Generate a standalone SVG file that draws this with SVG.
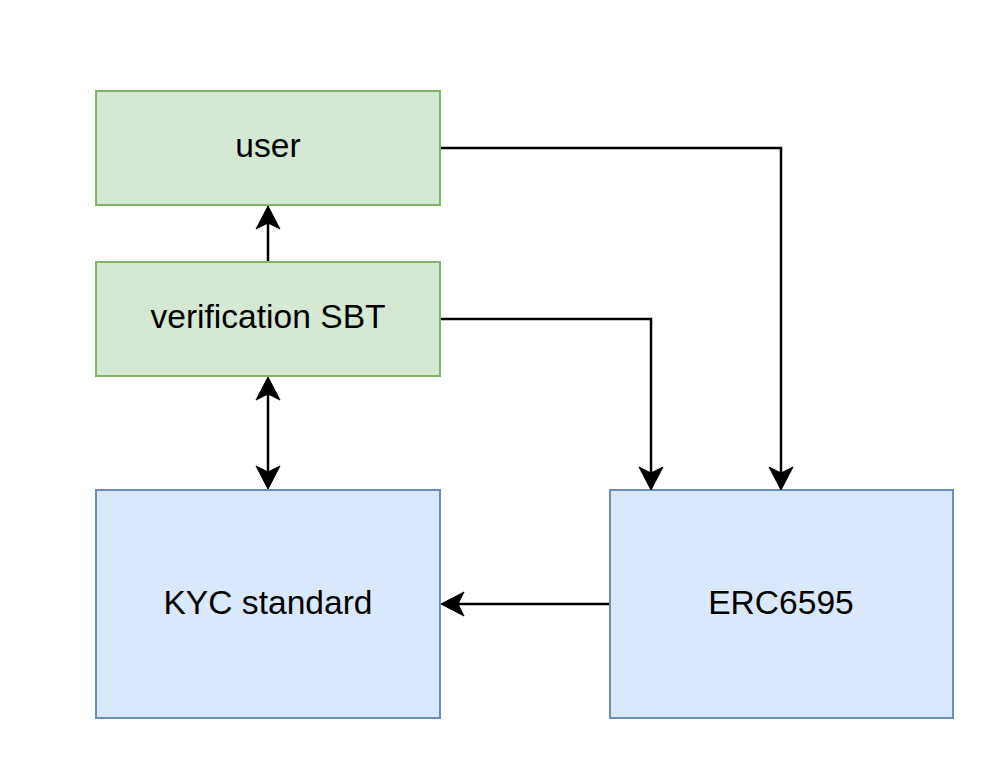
<svg xmlns="http://www.w3.org/2000/svg" width="1004" height="772" viewBox="0 0 1004 772">
<style>
.g{fill:#d5e8d4;stroke:#82b366;stroke-width:2}
.b{fill:#dae8fc;stroke:#6c8ebf;stroke-width:2}
.t{font-family:"Liberation Sans",Arial,sans-serif;font-size:33.6px;fill:#000;text-anchor:middle}
.c{fill:none;stroke:#000;stroke-width:2.5}
.h{fill:#000;stroke:#000;stroke-width:1}
</style>
<defs>
<path id="ah" d="M0,0 L-12,-23 L0,-17 L12,-23 Z"/>
</defs>
<rect width="1004" height="772" fill="#fff"/>
<g id="user"><rect class="g" x="96" y="91" width="344" height="114"/><text class="t" x="268" y="157">user</text></g>
<g id="sbt"><rect class="g" x="96" y="262" width="344" height="114"/><text class="t" x="268" y="328">verification SBT</text></g>
<g id="kyc"><rect class="b" x="96" y="490" width="344" height="228"/><text class="t" x="268" y="614">KYC standard</text></g>
<g id="erc"><rect class="b" x="610" y="490" width="343" height="228"/><text class="t" x="781" y="614">ERC6595</text></g>
<g id="connectors">
<path class="c" d="M441,148 H781 V474"/>
<use href="#ah" class="h" transform="translate(781,490)"/>
<path class="c" d="M441,319 H651 V474"/>
<use href="#ah" class="h" transform="translate(651,490)"/>
<path class="c" d="M609,604 H456"/>
<use href="#ah" class="h" transform="translate(441,604) rotate(90)"/>
<path class="c" d="M268,261 V221"/>
<use href="#ah" class="h" transform="translate(268,206) rotate(180)"/>
<path class="c" d="M268,393 V474"/>
<use href="#ah" class="h" transform="translate(268,377) rotate(180)"/>
<use href="#ah" class="h" transform="translate(268,489)"/>
</g>
</svg>
